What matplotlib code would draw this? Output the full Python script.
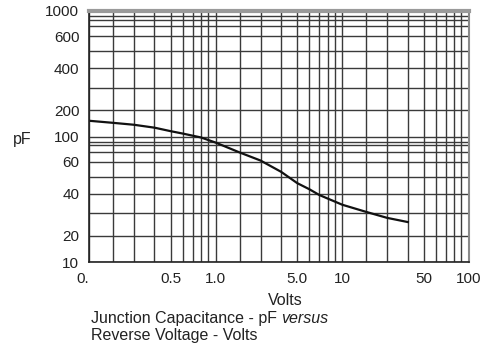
import numpy as np
import matplotlib
matplotlib.use("Agg")
import matplotlib.pyplot as plt
from matplotlib.ticker import FixedLocator, FixedFormatter, NullFormatter

plt.rcParams['font.family'] = ['Liberation Sans', 'DejaVu Sans']
plt.rcParams['font.size'] = 11

# curve
volts = [0.1, 0.2, 0.3, 0.4, 0.5, 0.6, 0.8, 1, 2, 3, 4, 5, 6, 7, 10, 20, 30, 40]
cap_pf = [151, 143, 136, 126, 115, 108, 98, 87, 69, 61, 53, 46, 42.5, 39.4, 34, 30.5, 27.5, 25.5]

x_ticks = [0.1, 0.5, 1, 5, 10, 50, 100]
x_labels = ['0.', '0.5', '1.0', '5.0', '10', '50', '100']
y_ticks = [10, 20, 40, 60, 100, 200, 400, 600, 1000]
y_labels = ['10', '20', '40', '60', '100', '200', '400', '600', '1000']

# the printed graph paper is not true log:
# where the 1,2,...,10 lines sit inside one decade (fraction of the decade)
x_decade = [0, .19, .354, .517, .644, .74, .818, .884, .94, 1]
y_decade = [0, .211, .39, .542, .68, .8, .88, .93, .96, 1]


def paper_scale(frac, first, ndec):
    logs = []
    pos = []
    for d in range(ndec):
        for m in range(1, 10):
            logs.append(first + d + np.log10(m))
            pos.append(d + frac[m - 1])
    logs.append(first + ndec)
    pos.append(ndec)
    logs = np.array(logs)
    pos = np.array(pos)

    def fwd(v):
        v = np.clip(np.asarray(v, dtype=float), 1e-9, None)
        return np.interp(np.log10(v), logs, pos)

    def inv(p):
        return 10 ** np.interp(np.asarray(p, dtype=float), pos, logs)

    return fwd, inv


def grid_values(first, ndec):
    vals = [m * 10.0 ** (first + d) for d in range(ndec) for m in range(1, 10)]
    vals.append(10.0 ** (first + ndec))
    return vals


fig = plt.figure(figsize=(4.88, 3.52), dpi=100)
ax = fig.add_axes([89 / 488, 1 - 262 / 352, 380 / 488, 251 / 352])

ax.set_xscale('function', functions=paper_scale(x_decade, -1, 3))
ax.set_yscale('function', functions=paper_scale(y_decade, 1, 2))
ax.set_xlim(0.1, 100)
ax.set_ylim(10, 1000)

xminor = [v for v in grid_values(-1, 3) if not np.isclose(v, x_ticks).any()]
yminor = [v for v in grid_values(1, 2) if not np.isclose(v, y_ticks).any()]
ax.xaxis.set_major_locator(FixedLocator(x_ticks))
ax.xaxis.set_major_formatter(FixedFormatter(x_labels))
ax.xaxis.set_minor_locator(FixedLocator(xminor))
ax.xaxis.set_minor_formatter(NullFormatter())
ax.yaxis.set_major_locator(FixedLocator(y_ticks))
ax.yaxis.set_major_formatter(FixedFormatter(y_labels))
ax.yaxis.set_minor_locator(FixedLocator(yminor))
ax.yaxis.set_minor_formatter(NullFormatter())

ax.grid(which='both', color='#3a3a3a', linewidth=1.0)
ax.tick_params(which='both', length=0, labelsize=11, colors='#222222')
ax.tick_params(axis='y', pad=7)
ax.tick_params(axis='x', pad=7)
# the "0." label sits a little left of its line
ax.get_xticklabels()[0].set_x(0.1)
ax.get_xticklabels()[0].set_ha('right')

for side in ['left', 'bottom']:
    ax.spines[side].set_color('#222222')
    ax.spines[side].set_linewidth(1.2)
ax.spines['top'].set_color('#9a9a9a')
ax.spines['top'].set_linewidth(3)
ax.spines['right'].set_color('#8a8a8a')
ax.spines['right'].set_linewidth(1.5)

ax.plot(volts, cap_pf, color='#111111', linewidth=1.6)

ax.set_xlabel('Volts', color='#222222', fontsize=11.5)
ax.xaxis.set_label_coords(0.516, -0.125)
ax.set_ylabel('pF', rotation=0, color='#222222', va='center', ha='center', fontsize=11.5)
ax.yaxis.set_label_coords(-0.175, 0.49)

t1 = fig.text(91 / 488, 1 - 326 / 352, 'Junction Capacitance - pF ',
              color='#222222', va='bottom', fontsize=11.5)
ax.annotate('versus', xy=(1, 0), xycoords=t1, va='bottom', ha='left',
            style='italic', color='#222222', fontsize=11.5)
fig.text(91 / 488, 1 - 343 / 352, 'Reverse Voltage - Volts',
         color='#222222', va='bottom', fontsize=11.5)

fig.savefig('out.png', dpi=100)
